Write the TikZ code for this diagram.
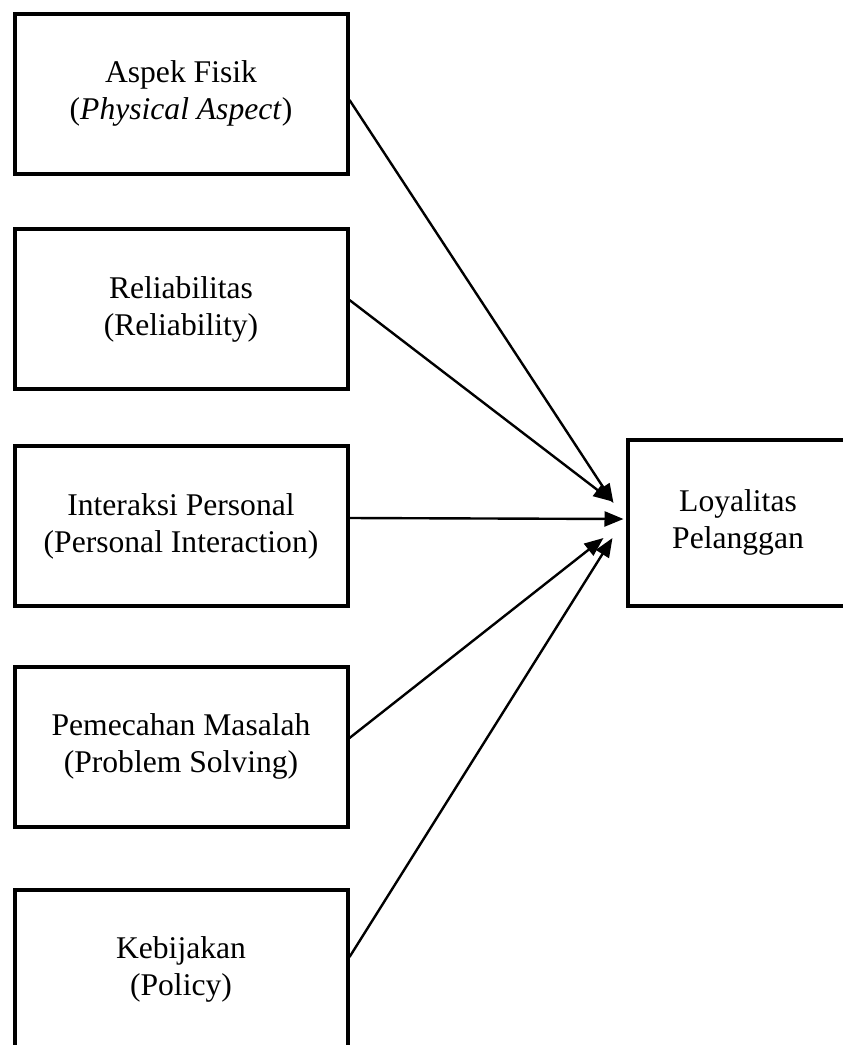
\documentclass[tikz,border=0pt]{standalone}
\usepackage{fontspec}
\setmainfont{Liberation Serif}
\usetikzlibrary{arrows.meta}
\begin{document}
\begin{tikzpicture}[x=1pt,y=-1pt,
  box/.style={draw,line width=4pt,minimum width=333pt,minimum height=160pt,
    align=center,font=\fontsize{31.6}{37}\selectfont},
  arr/.style={line width=2.4pt,-{Triangle[length=19pt,width=15pt]}}]
\useasboundingbox (0,0) rectangle (843,1045);
\clip (0,0) rectangle (843,1045);
\node[box] (fisik) at (181,93.5) {Aspek Fisik\\(\textit{Physical Aspect})};
\node[box] (reli) at (181,309) {Reliabilitas\\(Reliability)};
\node[box] (inter) at (181,526) {Interaksi Personal\\(Personal Interaction)};
\node[box] (masalah) at (181,746.5) {Pemecahan Masalah\\(Problem Solving)};
\node[box] (bijak) at (181,969.5) {Kebijakan\\(Policy)};
\node[box,minimum width=221pt,minimum height=166pt] (loyal) at (738,522.5) {Loyalitas\\Pelanggan};
\draw[arr] ([yshift=-6.5pt]fisik.east) -- ([xshift=-12pt,yshift=19.5pt]loyal.west);
\draw[arr] ([yshift=9pt]reli.east) -- ([xshift=-13pt,yshift=21pt]loyal.west);
\draw[arr] ([yshift=8pt]inter.east) -- ([xshift=-2pt,yshift=3.5pt]loyal.west);
\draw[arr] ([yshift=8.5pt]masalah.east) -- ([xshift=-22pt,yshift=-15.5pt]loyal.west);
\draw[arr] ([yshift=12.5pt]bijak.east) -- ([xshift=-13pt,yshift=-15.5pt]loyal.west);
\end{tikzpicture}
\end{document}
